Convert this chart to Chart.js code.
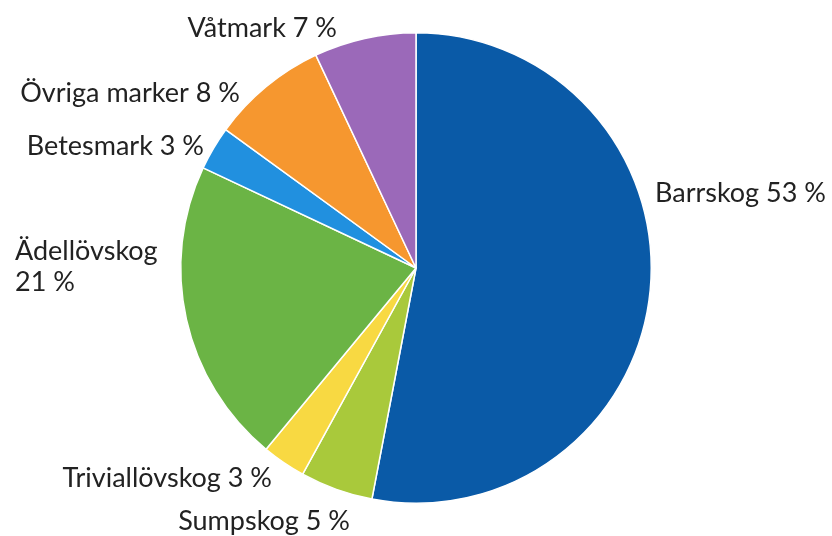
<!DOCTYPE html>
<html>
<head>
<meta charset="utf-8">
<script src="https://cdn.jsdelivr.net/npm/chart.js@4/dist/chart.umd.min.js"></script>
<style>
  html, body { margin: 0; padding: 0; background: #fff; }
  #wrap { width: 832px; height: 536px; position: relative; }
</style>
</head>
<body>
<div id="wrap"><canvas id="pieChart"></canvas></div>
<script>
// Markanvändning, andel i procent (medurs från kl 12)
const categories = ['Barrskog', 'Sumpskog', 'Triviallövskog', 'Ädellövskog', 'Betesmark', 'Övriga marker', 'Våtmark'];
const values = [53, 5, 3, 21, 3, 8, 7];
const colors = ['#0a5aa7', '#a9c93b', '#f8d942', '#6bb445', '#2190df', '#f6972f', '#9b69b9'];

// var etikett sitter, relativt pajens mitt (dx, dy) och textjustering
const labelPlaces = [
    { dx: 239, dy: -75, align: 'left' },
    { dx: -66, dy: 253, align: 'right' },
    { dx: -144, dy: 210, align: 'right' },
    { dx: -401, dy: -17, align: 'left', split: true },
    { dx: -212, dy: -122, align: 'right' },
    { dx: -176, dy: -175, align: 'right' },
    { dx: -79, dy: -240, align: 'right' }
];

const outsideLabels = {
    id: 'outsideLabels',
    afterDraw(chart) {
        const ctx = chart.ctx;
        const arc = chart.getDatasetMeta(0).data[0];
        const cx = arc.x, cy = arc.y;
        ctx.save();
        ctx.font = '27px Lato';
        ctx.fillStyle = '#222222';
        ctx.textBaseline = 'middle';
        categories.forEach((name, i) => {
            const p = labelPlaces[i];
            ctx.textAlign = p.align;
            if (p.split) {
                ctx.fillText(name, cx + p.dx, cy + p.dy);
                ctx.fillText(values[i] + ' %', cx + p.dx, cy + p.dy + 31);
            } else {
                ctx.fillText(name + ' ' + values[i] + ' %', cx + p.dx, cy + p.dy);
            }
        });
        ctx.restore();
    }
};

var ctx_pie = document.getElementById('pieChart').getContext('2d');
var pieChart = new Chart(ctx_pie, {
    type: 'pie',
    data: {
        labels: categories,
        datasets: [{
            data: values,
            backgroundColor: colors,
            borderColor: '#ffffff',
            borderWidth: 1.5
        }]
    },
    options: {
        responsive: true,
        maintainAspectRatio: false,
        animation: false,
        layout: { padding: { top: 32, bottom: 32, left: 0, right: 0 } },
        plugins: {
            legend: { display: false },
            tooltip: { enabled: false }
        }
    },
    plugins: [outsideLabels]
});
</script>
</body>
</html>
